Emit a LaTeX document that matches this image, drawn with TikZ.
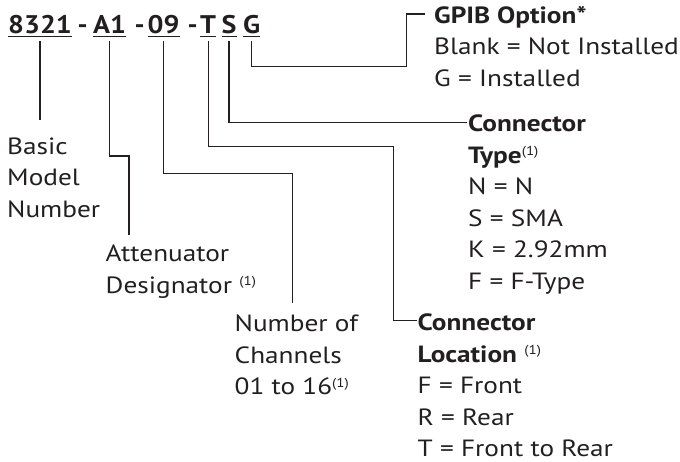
\documentclass[tikz,border=0pt]{standalone}
\usepackage{fontspec}
\setmainfont{PT Sans}[FakeStretch=1.16]
\newfontfamily\codefamily{PT Sans}[FakeStretch=1.1]
\usetikzlibrary{positioning}
\definecolor{ink}{RGB}{35,31,32}
\newcommand{\bodyfont}{\fontsize{23.5}{31.5}\selectfont}
\newcommand{\codefont}{\codefamily\fontsize{25.5}{30}\selectfont\bfseries}
\newcommand{\supone}{\raisebox{7.5pt}{\fontsize{13}{13}\selectfont\mdseries(1)}}
\tikzstyle{codepart} = [inner sep=0pt, anchor=base west, text depth=8pt, font=\codefont, text=ink]
\tikzstyle{labelblock} = [inner sep=0pt, anchor=base west, align=left, font=\bodyfont, text=ink]
\tikzstyle{line} = [draw, line width=1.3pt, color=ink]
\tikzstyle{uline} = [draw, line width=1.3pt, color=ink]
\newcommand{\codepart}[2]{node (c#1) [codepart] {#2}}
\newcommand{\labelblock}[2]{node (l#1) [labelblock] {#2}}

\begin{document}
\begin{tikzpicture}[x=1pt, y=-1pt]
\useasboundingbox (0,0) rectangle (680,462);
\path (8,33.3) \codepart{1}{8321};
\path (77.5,33.3) node (d1) [codepart] {-};
\path (93,33.3) \codepart{2}{A1};
\path (134.5,33.3) node (d2) [codepart] {-};
\path (147.5,33.3) \codepart{3}{09};
\path (187.5,33.3) node (d3) [codepart] {-};
\path (200,33.3) \codepart{4}{T};
\path (221.5,33.3) \codepart{5}{S};
\path (243,33.3) \codepart{6}{G};

\path (7,217.3) \labelblock{1}{Basic\\Model\\Number};
\path (105.5,293.2) \labelblock{2}{Attenuator\\Designator \supone};
\path (234.5,394.7) \labelblock{3}{Number of\\Channels\\01 to 16\supone};
\path (417.5,456.7) \labelblock{4}{\textbf{Connector}\\\textbf{Location} \supone\\F = Front\\R = Rear\\T = Front to Rear};
\path (468,289.2) \labelblock{5}{\textbf{Connector}\\\textbf{Type}\supone\\N = N\\S = SMA\\K = 2.92mm\\F = F-Type};
\path (434,86.3) \labelblock{6}{\textbf{GPIB Option*}\\Blank = Not Installed\\G = Installed};

\coordinate (e1) at (36.7,120);
\coordinate (e2) at (129,235);
\coordinate (e3) at (292.7,303);
\coordinate (e4) at (416.5,320.7);
\coordinate (e5) at (466.5,122.7);
\coordinate (e6) at (425,14);

\foreach \i in {1,...,6}
  \path [uline] ([yshift=-3.4pt]c\i.base west) -- ([yshift=-3.4pt]c\i.base east);

\path [line] (c1.south) -- (c1.south |- e1);
\path [line] (c2.south) |- (e2 |- 0,156) -- (e2);
\path [line] (c3.south) |- (e3 |- 0,173.3) -- (e3);
\path [line] (c4.south) |- (393.3,146.7) |- (e4);
\path [line] (c5.south) |- (e5);
\path [line] (c6.south) |- (406.7,66.7) |- (e6);
\end{tikzpicture}
\end{document}
